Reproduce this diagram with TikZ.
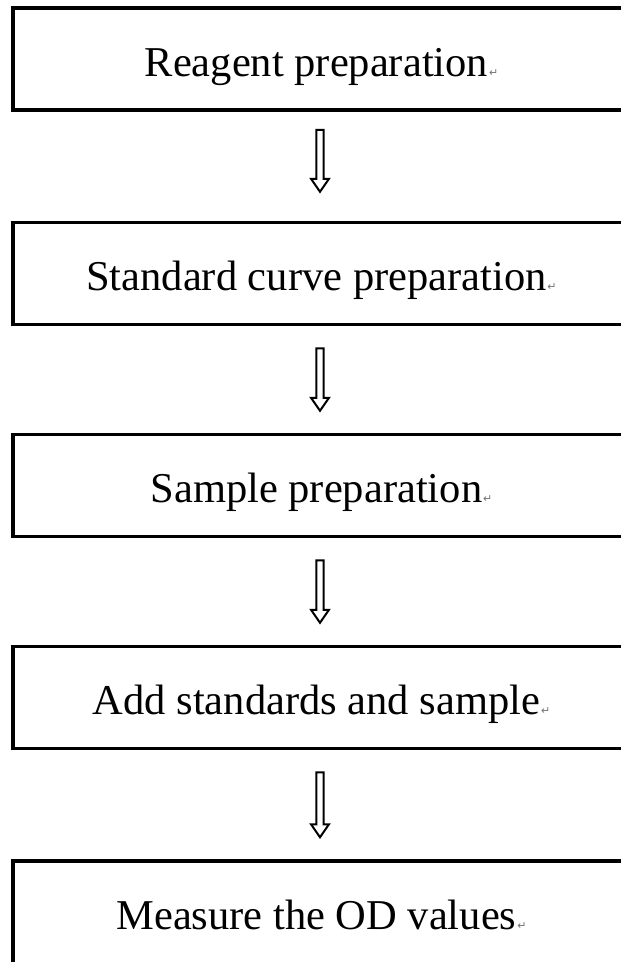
\documentclass[tikz,border=0pt]{standalone}
\usepackage{fontspec}
\setmainfont{Liberation Serif}
\newfontfamily\markfont{DejaVu Sans}
\usetikzlibrary{calc}
\tikzset{
  stepbox/.style={draw=black, line width=3.5pt, minimum width=617pt, minimum height=102pt,
    inner sep=0pt, text height=34pt, text depth=0pt,
    font=\fontsize{42.5}{50}\selectfont},
  arrowline/.style={draw=black, line width=2pt, line join=miter, fill=white}
}
\newcommand\retmark{\kern1pt{\markfont\fontsize{11}{11}\selectfont\textcolor{black!55}{↵}}}
\newcommand\hollowarrow[2]{%
  \draw[arrowline] ($(#1)+(-3.6,0)$) -- ($(#2)+(-3.6,-13)$) -- ($(#2)+(-9,-13)$)
    -- (#2) -- ($(#2)+(9,-13)$) -- ($(#2)+(3.6,-13)$) -- ($(#1)+(3.6,0)$) -- cycle;}
\begin{document}
\begin{tikzpicture}[x=1pt, y=-1pt]
  \useasboundingbox (0,0) rectangle (621,962);
  \node[stepbox] (b1) at (321.5,59) {Reagent preparation\retmark};
  \node[stepbox] (b2) at (321.5,273.5) {Standard curve preparation\retmark};
  \node[stepbox] (b3) at (321.5,485.5) {Sample preparation\retmark};
  \node[stepbox] (b4) at (321.5,697.5) {Add standards and sample\retmark};
  \node[stepbox, minimum height=112pt, text height=24pt] (b5) at (321.5,917) {Measure the OD values\retmark};
  \coordinate (a1s) at ($(b1.south)+(-1.5,18)$);
  \coordinate (a1t) at ($(b2.north)+(-1.5,-29)$);
  \coordinate (a2s) at ($(b2.south)+(-1.5,22)$);
  \coordinate (a2t) at ($(b3.north)+(-1.5,-22)$);
  \coordinate (a3s) at ($(b3.south)+(-1.5,22)$);
  \coordinate (a3t) at ($(b4.north)+(-1.5,-22)$);
  \coordinate (a4s) at ($(b4.south)+(-1.5,22)$);
  \coordinate (a4t) at ($(b5.north)+(-1.5,-22)$);
  \hollowarrow{a1s}{a1t}
  \hollowarrow{a2s}{a2t}
  \hollowarrow{a3s}{a3t}
  \hollowarrow{a4s}{a4t}
\end{tikzpicture}
\end{document}
